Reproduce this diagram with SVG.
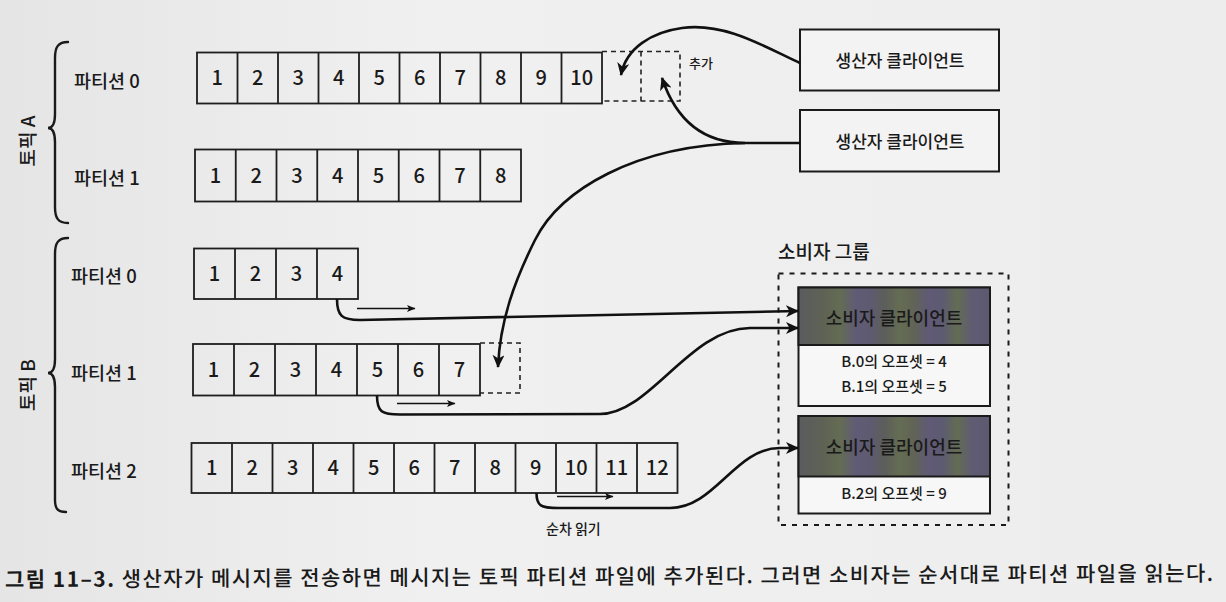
<svg xmlns="http://www.w3.org/2000/svg" width="1226" height="602" viewBox="0 0 1226 602">
<defs>
<style>
text{font-family:"Noto Sans CJK KR","Noto Sans",sans-serif;fill:#1a1a1a;font-weight:500}
.cell{fill:none;stroke:#1e1e1e;stroke-width:1.8}
.dash{fill:none;stroke:#222;stroke-width:1.6;stroke-dasharray:5 4}
.num{font-size:20px;text-anchor:middle}
.lbl{font-size:18.5px}
.topic{font-size:19px;text-anchor:middle}
.box{fill:#f3f3f3;stroke:#1a1a1a;stroke-width:2}
.cbox{fill:#f7f7f7;stroke:#1a1a1a;stroke-width:2}
.hdr{fill:url(#stripe);stroke:#1a1a1a;stroke-width:2}
.btxt{font-size:17px;text-anchor:middle}
.ctxt{font-size:18px;text-anchor:middle}
.otxt{font-size:15px;text-anchor:middle}
.conn{fill:none;stroke:#111;stroke-width:2.6;marker-end:url(#ah)}
.thin{fill:none;stroke:#111;stroke-width:1.3;marker-end:url(#sh)}
.brace{fill:none;stroke:#1a1a1a;stroke-width:2.4;stroke-linecap:round}
</style>
<linearGradient id="bg" x1="0" y1="0" x2="1" y2="0">
<stop offset="0" stop-color="#e5e5e5"/>
<stop offset="0.35" stop-color="#f0f0f0"/>
<stop offset="1" stop-color="#ededed"/>
</linearGradient>
<linearGradient id="stripe" gradientUnits="userSpaceOnUse" x1="798" y1="0" x2="990" y2="0">
<stop offset="0" stop-color="#5b5b5e"/>
<stop offset="0.14" stop-color="#5e6354"/>
<stop offset="0.22" stop-color="#646c53"/>
<stop offset="0.3" stop-color="#605b76"/>
<stop offset="0.38" stop-color="#5e5b70"/>
<stop offset="0.45" stop-color="#5c5e5a"/>
<stop offset="0.53" stop-color="#646d53"/>
<stop offset="0.6" stop-color="#616455"/>
<stop offset="0.68" stop-color="#605a76"/>
<stop offset="0.75" stop-color="#5d5a72"/>
<stop offset="0.83" stop-color="#636c53"/>
<stop offset="0.91" stop-color="#5f5b74"/>
<stop offset="1" stop-color="#5c5a6e"/>
</linearGradient>
<marker id="ah" markerUnits="userSpaceOnUse" markerWidth="14" markerHeight="12" refX="12" refY="6" orient="auto">
<path d="M0,0 L13,6 L0,12 L3.5,6 Z" fill="#111"/>
</marker>
<marker id="sh" markerUnits="userSpaceOnUse" markerWidth="9" markerHeight="7" refX="8" refY="3.5" orient="auto">
<path d="M0,0 L8.5,3.5 L0,7 L2,3.5 Z" fill="#111"/>
</marker>
</defs>
<rect x="0" y="0" width="1226" height="602" fill="url(#bg)"/>

<g id="topic-a">
<path class="brace" d="M68,42 C58,42 55,47 55,58 L55,114 C55,123 53,128 48,128 C53,128 55,133 55,142 L55,207 C55,218 58,223 68,223"/>
<text class="topic" transform="translate(35,141) rotate(-90)">토픽 A</text>
</g>
<g id="topic-b">
<path class="brace" d="M68,238 C58,238 55,243 55,254 L55,359 C55,368 53,373 48,373 C53,373 55,378 55,387 L55,500 C55,509 58,512 66,512"/>
<text class="topic" transform="translate(35,385) rotate(-90)">토픽 B</text>
</g>

<g id="partition-a0">
<text class="lbl" x="74" y="87.5">파티션 0</text>
<rect class="cell" x="197" y="52.5" width="405" height="51"/>
<path class="cell" d="M237.5,52.5V103.5M278,52.5V103.5M318.5,52.5V103.5M359,52.5V103.5M399.5,52.5V103.5M440,52.5V103.5M480.5,52.5V103.5M521,52.5V103.5M561.5,52.5V103.5"/>
<g class="num">
<text x="217.25" y="85">1</text><text x="257.75" y="85">2</text><text x="298.25" y="85">3</text><text x="338.75" y="85">4</text><text x="379.25" y="85">5</text><text x="419.75" y="85">6</text><text x="460.25" y="85">7</text><text x="500.75" y="85">8</text><text x="541.25" y="85">9</text><text x="581.75" y="85">10</text>
</g>
<path class="dash" d="M602,51.5H680V101H602M641,51.5V101"/>
<text x="689" y="68" font-size="13">추가</text>
</g>

<g id="partition-a1">
<text class="lbl" x="74" y="185">파티션 1</text>
<rect class="cell" x="195" y="149.5" width="326" height="52"/>
<path class="cell" d="M235.75,149.5V201.5M276.5,149.5V201.5M317.25,149.5V201.5M358,149.5V201.5M398.75,149.5V201.5M439.5,149.5V201.5M480.25,149.5V201.5"/>
<g class="num">
<text x="215.4" y="182.5">1</text><text x="256.1" y="182.5">2</text><text x="296.9" y="182.5">3</text><text x="337.6" y="182.5">4</text><text x="378.4" y="182.5">5</text><text x="419.1" y="182.5">6</text><text x="459.9" y="182.5">7</text><text x="500.6" y="182.5">8</text>
</g>
</g>

<g id="partition-b0">
<text class="lbl" x="71" y="283">파티션 0</text>
<rect class="cell" x="194" y="248.5" width="164" height="50.5"/>
<path class="cell" d="M235,248.5V299M276,248.5V299M317,248.5V299"/>
<g class="num">
<text x="214.5" y="281">1</text><text x="255.5" y="281">2</text><text x="296.5" y="281">3</text><text x="337.5" y="281">4</text>
</g>
</g>

<g id="partition-b1">
<text class="lbl" x="71" y="379.5">파티션 1</text>
<rect class="cell" x="193" y="344" width="287" height="51.5"/>
<path class="cell" d="M234,344V395.5M275,344V395.5M316,344V395.5M357,344V395.5M398,344V395.5M439,344V395.5"/>
<g class="num">
<text x="213.5" y="377">1</text><text x="254.5" y="377">2</text><text x="295.5" y="377">3</text><text x="336.5" y="377">4</text><text x="377.5" y="377">5</text><text x="418.5" y="377">6</text><text x="459.5" y="377">7</text>
</g>
<path class="dash" d="M480,343H520V393H480"/>
</g>

<g id="partition-b2">
<text class="lbl" x="71" y="477.5">파티션 2</text>
<rect class="cell" x="191.5" y="443" width="486" height="50"/>
<path class="cell" d="M232,443V493M272.5,443V493M313,443V493M353.5,443V493M394,443V493M434.5,443V493M475,443V493M515.5,443V493M556,443V493M596.5,443V493M637,443V493"/>
<g class="num">
<text x="211.75" y="475">1</text><text x="252.25" y="475">2</text><text x="292.75" y="475">3</text><text x="333.25" y="475">4</text><text x="373.75" y="475">5</text><text x="414.25" y="475">6</text><text x="454.75" y="475">7</text><text x="495.25" y="475">8</text><text x="535.75" y="475">9</text><text x="576.25" y="475">10</text><text x="616.75" y="475">11</text><text x="657.25" y="475">12</text>
</g>
<text x="546" y="533.5" font-size="14">순차 읽기</text>
</g>

<g id="producer-1">
<rect class="box" x="800" y="29.5" width="199" height="61"/>
<text class="btxt" x="900" y="66.5">생산자 클라이언트</text>
</g>
<g id="producer-2">
<rect class="box" x="800" y="110" width="199" height="61.5"/>
<text class="btxt" x="900" y="147.5">생산자 클라이언트</text>
</g>

<g id="consumer-group">
<text x="778" y="258.5" font-size="19">소비자 그룹</text>
<rect x="778.5" y="273.5" width="230" height="251.5" fill="none" stroke="#1a1a1a" stroke-width="2" stroke-dasharray="5 6"/>
</g>
<g id="consumer-1">
<rect class="cbox" x="798.5" y="287.5" width="191.5" height="118.5"/>
<rect class="hdr" x="798.5" y="287.5" width="191.5" height="57.5"/>
<text class="ctxt" x="894" y="324.5">소비자 클라이언트</text>
<text class="otxt" x="894" y="367">B.0의 오프셋 = 4</text>
<text class="otxt" x="894" y="392">B.1의 오프셋 = 5</text>
</g>
<g id="consumer-2">
<rect class="cbox" x="798.5" y="416" width="191.5" height="97.5"/>
<rect class="hdr" x="798.5" y="416" width="191.5" height="60.5"/>
<text class="ctxt" x="894" y="453.5">소비자 클라이언트</text>
<text class="otxt" x="894" y="498.5">B.2의 오프셋 = 9</text>
</g>

<g id="connectors">
<path class="conn" d="M800,63 C765,47 725,22 682,28 C652,32 626,48 621,75"/>
<path class="conn" d="M800,143 L745,143 C702,143 676,120 662,78"/>
<path class="conn" d="M745,143 C635,145 560,190 535,240 C515,280 500,320 498,367"/>
<path class="conn" d="M337,299 C337,316 342,320 360,320 L798,311"/>
<path class="conn" d="M377,395.5 C377,412 382,414.5 400,414.5 L600,414 C650,414 690,328 750,328 L798,328"/>
<path class="conn" d="M536.5,493 C536.5,506 541,508 558,508 L670,508 C715,508 735,448 780,448 L798,448"/>
<path class="thin" d="M357,308.5 H415"/>
<path class="thin" d="M397,403.5 H455"/>
<path class="thin" d="M557,496.5 H613"/>
</g>

<g id="caption" transform="rotate(-0.3 610 578)">
<text x="5" y="584" font-size="21" textLength="1208" lengthAdjust="spacing"><tspan font-weight="bold">그림 11–3.</tspan> 생산자가 메시지를 전송하면 메시지는 토픽 파티션 파일에 추가된다. 그러면 소비자는 순서대로 파티션 파일을 읽는다.</text>
</g>
</svg>
